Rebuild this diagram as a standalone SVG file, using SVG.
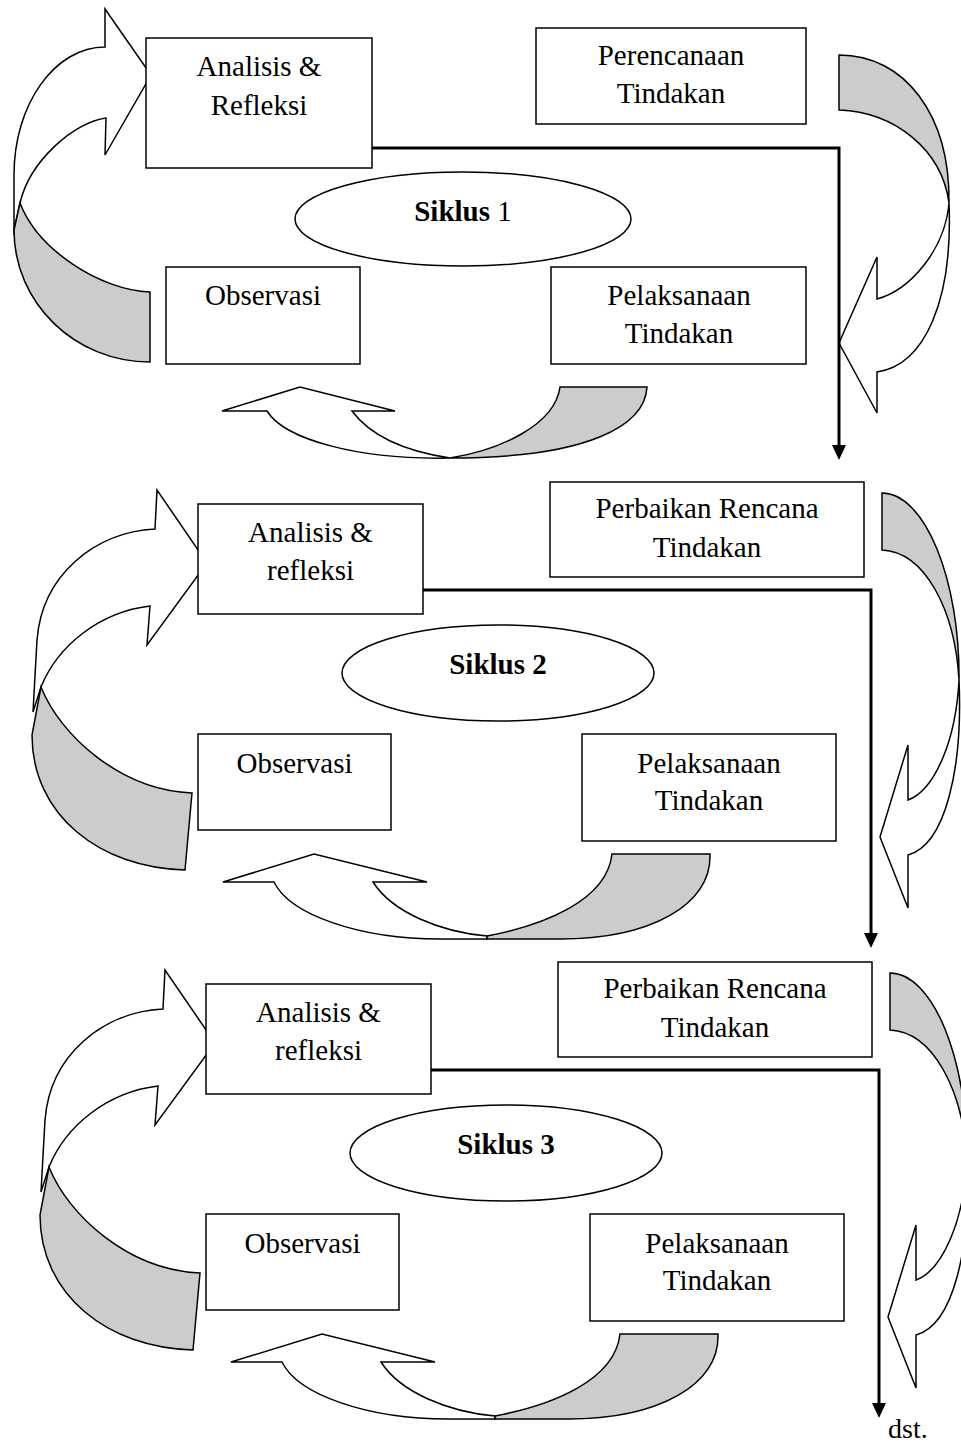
<svg xmlns="http://www.w3.org/2000/svg" width="961" height="1446" viewBox="0 0 961 1446">
<defs>
<style>
.box{fill:#fff;stroke:#000;stroke-width:1.5}
.ell{fill:#fff;stroke:#000;stroke-width:1.5}
.t{font-family:"Liberation Serif","Times New Roman",serif;font-size:29px;text-anchor:middle;fill:#000}
.b{font-weight:bold}
.aw{fill:#fff;stroke:#000;stroke-width:1.5;stroke-linejoin:miter}
.ag{fill:#cccccc;stroke:#000;stroke-width:1.5;stroke-linejoin:miter}
.conn{fill:none;stroke:#000;stroke-width:3}
</style>
<marker id="ah" markerUnits="userSpaceOnUse" markerWidth="15" markerHeight="14" viewBox="0 0 15 14" refX="1" refY="7" orient="auto">
<path d="M0,0 L15,7 L0,14 Z" fill="#000"/>
</marker>
</defs>
<rect width="961" height="1446" fill="#fff"/>

<!-- Cycle 1 block arrows -->
<g id="c1-arrow-left">
<path class="aw" d="M14,235 L14,175 C14,104 55,47 105,47 L105,9 L151,75 L105,155 L106,118 C75,122 30,160 20,203 L14,230 Z"/>
<path class="ag" d="M150,292 L150,362 C75,362 14,303 14,230 L20,203 C38,250 100,290 150,292 Z"/>
</g>
<g id="c1-arrow-right">
<path class="aw" d="M949,203 C953,300 925,365 877,372 L877,413 L839,343 L877,257 L877,299 C910,290 945,250 949,203 Z"/>
<path class="ag" d="M839,55 C905,55 950,115 949,203 C942,150 895,112 839,110 Z"/>
</g>
<g id="c1-arrow-bottom">
<path class="aw" d="M450,458 C360,460 285,440 267,411 L222,411 L300,387 L395,411 L352,411 C372,438 410,452 450,458 Z"/>
<path class="ag" d="M560,387 L647,387 C645,425 590,458 450,458 C500,450 555,425 560,387 Z"/>
</g>

<!-- Cycle 2 block arrows -->
<g id="c2-arrow-left">
<path class="aw" d="M37,640 C42,575 95,532 155,529 L157,490 L207,563 L147,645 L150,606 C100,612 58,645 41,687 L33,712 Z"/>
<path class="ag" d="M192,793 L185,870 C100,868 32,815 32,735 L41,687 C60,735 120,790 192,793 Z"/>
</g>
<g id="c2-arrow-right">
<path class="aw" d="M959,680 C963,770 945,845 908,855 L908,908 L880,837 L908,745 L908,800 C935,790 956,740 959,680 Z"/>
<path class="ag" d="M882,493 C925,493 960,580 959,680 C955,610 925,552 882,550 Z"/>
</g>
<g id="c2-arrow-bottom">
<path class="aw" d="M274,882 C290,915 360,939 440,939 L487,939 L487,936 C440,932 392,912 373,882 L427,882 L314,854 L223,882 Z"/>
<path class="ag" d="M612,854 L710,854 C712,905 650,939 560,939 L487,939 L487,936 C545,925 607,900 612,854 Z"/>
</g>

<!-- Cycle 3 block arrows -->
<g id="c3-arrow-left" transform="translate(8,480)">
<path class="aw" d="M37,640 C42,575 95,532 155,529 L157,490 L207,563 L147,645 L150,606 C100,612 58,645 41,687 L33,712 Z"/>
<path class="ag" d="M192,793 L185,870 C100,868 32,815 32,735 L41,687 C60,735 120,790 192,793 Z"/>
</g>
<g id="c3-arrow-right" transform="translate(8,480)">
<path class="aw" d="M959,680 C963,770 945,845 908,855 L908,908 L880,837 L908,745 L908,800 C935,790 956,740 959,680 Z"/>
<path class="ag" d="M882,493 C925,493 960,580 959,680 C955,610 925,552 882,550 Z"/>
</g>
<g id="c3-arrow-bottom" transform="translate(8,480)">
<path class="aw" d="M274,882 C290,915 360,939 440,939 L487,939 L487,936 C440,932 392,912 373,882 L427,882 L314,854 L223,882 Z"/>
<path class="ag" d="M612,854 L710,854 C712,905 650,939 560,939 L487,939 L487,936 C545,925 607,900 612,854 Z"/>
</g>

<!-- Connectors -->
<g id="connectors">
<path class="conn" d="M372,148 H839 V446" marker-end="url(#ah)"/>
<path class="conn" d="M423,590 H871 V934" marker-end="url(#ah)"/>
<path class="conn" d="M431,1070 H879 V1404" marker-end="url(#ah)"/>
</g>

<!-- Cycle 1 nodes -->
<g id="c1-analisis">
<rect class="box" x="146" y="38" width="226" height="130"/>
<text class="t" x="259" y="76">Analisis &amp;</text>
<text class="t" x="259" y="115">Refleksi</text>
</g>
<g id="c1-perencanaan">
<rect class="box" x="536" y="28" width="270" height="96"/>
<text class="t" x="671" y="65">Perencanaan</text>
<text class="t" x="671" y="103">Tindakan</text>
</g>
<g id="c1-siklus">
<ellipse class="ell" cx="463" cy="219" rx="168" ry="47"/>
<text class="t" x="463" y="221"><tspan class="b">Siklus</tspan> 1</text>
</g>
<g id="c1-observasi">
<rect class="box" x="166" y="267" width="194" height="97"/>
<text class="t" x="263" y="305">Observasi</text>
</g>
<g id="c1-pelaksanaan">
<rect class="box" x="551" y="267" width="255" height="97"/>
<text class="t" x="679" y="305">Pelaksanaan</text>
<text class="t" x="679" y="343">Tindakan</text>
</g>

<!-- Cycle 2 nodes -->
<g id="c2-analisis">
<rect class="box" x="198" y="504" width="225" height="110"/>
<text class="t" x="310.5" y="542">Analisis &amp;</text>
<text class="t" x="310.5" y="580">refleksi</text>
</g>
<g id="c2-perbaikan">
<rect class="box" x="550" y="482" width="314" height="95"/>
<text class="t" x="707" y="518">Perbaikan Rencana</text>
<text class="t" x="707" y="557">Tindakan</text>
</g>
<g id="c2-siklus">
<ellipse class="ell" cx="498" cy="673" rx="156" ry="48"/>
<text class="t b" x="498" y="674">Siklus 2</text>
</g>
<g id="c2-observasi">
<rect class="box" x="198" y="734" width="193" height="96"/>
<text class="t" x="294.5" y="773">Observasi</text>
</g>
<g id="c2-pelaksanaan">
<rect class="box" x="582" y="734" width="254" height="107"/>
<text class="t" x="709" y="773">Pelaksanaan</text>
<text class="t" x="709" y="810">Tindakan</text>
</g>

<!-- Cycle 3 nodes -->
<g id="c3-analisis">
<rect class="box" x="206" y="984" width="225" height="110"/>
<text class="t" x="318.5" y="1022">Analisis &amp;</text>
<text class="t" x="318.5" y="1060">refleksi</text>
</g>
<g id="c3-perbaikan">
<rect class="box" x="558" y="962" width="314" height="95"/>
<text class="t" x="715" y="998">Perbaikan Rencana</text>
<text class="t" x="715" y="1037">Tindakan</text>
</g>
<g id="c3-siklus">
<ellipse class="ell" cx="506" cy="1153" rx="156" ry="48"/>
<text class="t b" x="506" y="1154">Siklus 3</text>
</g>
<g id="c3-observasi">
<rect class="box" x="206" y="1214" width="193" height="96"/>
<text class="t" x="302.5" y="1253">Observasi</text>
</g>
<g id="c3-pelaksanaan">
<rect class="box" x="590" y="1214" width="254" height="107"/>
<text class="t" x="717" y="1253">Pelaksanaan</text>
<text class="t" x="717" y="1290">Tindakan</text>
</g>

<g id="dst">
<text class="t" x="888" y="1438" style="text-anchor:start;font-size:28px">dst.</text>
</g>
</svg>
